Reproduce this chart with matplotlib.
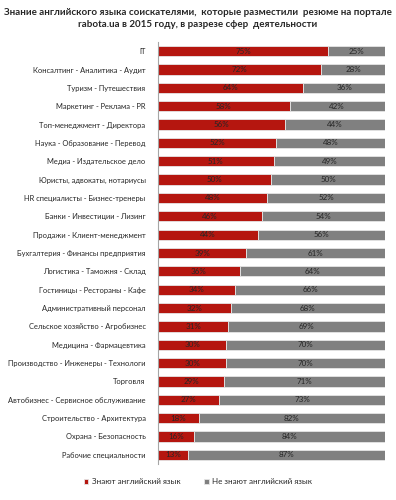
import matplotlib
matplotlib.use("Agg")
import matplotlib.pyplot as plt
import numpy as np

categories = [
    "IT",
    "Консалтинг - Аналитика - Аудит",
    "Туризм - Путешествия",
    "Маркетинг - Реклама - PR",
    "Топ-менеджмент - Директора",
    "Наука - Образование - Перевод",
    "Медиа - Издательское дело",
    "Юристы, адвокаты, нотариусы",
    "HR специалисты - Бизнес-тренеры",
    "Банки - Инвестиции - Лизинг",
    "Продажи - Клиент-менеджмент",
    "Бухгалтерия - Финансы предприятия",
    "Логистика - Таможня - Склад",
    "Гостиницы - Рестораны - Кафе",
    "Административный персонал",
    "Сельское хозяйство - Агробизнес",
    "Медицина - Фармацевтика",
    "Производство - Инженеры - Технологи",
    "Торговля",
    "Автобизнес - Сервисное обслуживание",
    "Строительство - Архитектура",
    "Охрана - Безопасность",
    "Рабочие специальности",
]
know = [75, 72, 64, 58, 56, 52, 51, 50, 48, 46, 44, 39, 36, 34, 32, 31, 30, 30, 29, 27, 18, 16, 13]
dont_know = [25, 28, 36, 42, 44, 48, 49, 50, 52, 54, 56, 61, 64, 66, 68, 69, 70, 70, 71, 73, 82, 84, 87]

RED = "#b5160f"
GREY = "#808080"

plt.rcParams["font.family"] = ["Lato", "DejaVu Sans"]

fig = plt.figure(figsize=(3.96, 5.0), dpi=100)
ax = fig.add_axes([0.399, 0.072, 0.573, 0.844])

y = np.arange(len(categories))
h = 0.56
b1 = ax.barh(y, know, height=h, color=RED, edgecolor="#e6e6e6", linewidth=0.6,
             label="Знают английский язык")
b2 = ax.barh(y, dont_know, left=know, height=h, color=GREY, edgecolor="#e6e6e6",
             linewidth=0.6, label="Не знают английский язык")

for bars, vals in ((b1, know), (b2, dont_know)):
    for rect, v in zip(bars, vals):
        ax.text(rect.get_x() + rect.get_width() / 2, rect.get_y() + rect.get_height() / 2,
                f"{v}%", ha="center", va="center", fontsize=5.8, color="#262626")

ax.set_ylim(len(categories) - 0.5, -0.5)
ax.set_xlim(0, 100)
ax.set_yticks(y)
ax.set_yticklabels(categories, fontsize=5.4, color="#262626")
ax.tick_params(axis="y", length=0, pad=9)
ax.set_xticks([])
for s in ("top", "right", "bottom"):
    ax.spines[s].set_visible(False)
ax.spines["left"].set_color("#a6a6a6")
ax.spines["left"].set_linewidth(0.8)

fig.text(0.5, 0.984, "Знание английского языка соискателями,  которые разместили  резюме на портале\n"
         "rabota.ua в 2015 году, в разрезе сфер  деятельности",
         ha="center", va="top", fontsize=7.0, fontweight="bold", color="#262626",
         linespacing=1.45)

fig.legend(handles=[b1, b2], loc="center", bbox_to_anchor=(0.5, 0.036), ncol=2,
           frameon=False, fontsize=5.8, handlelength=0.6, handleheight=0.6,
           columnspacing=3.0, handletextpad=0.4, labelcolor="#262626")

fig.savefig("out.png", dpi=100)
